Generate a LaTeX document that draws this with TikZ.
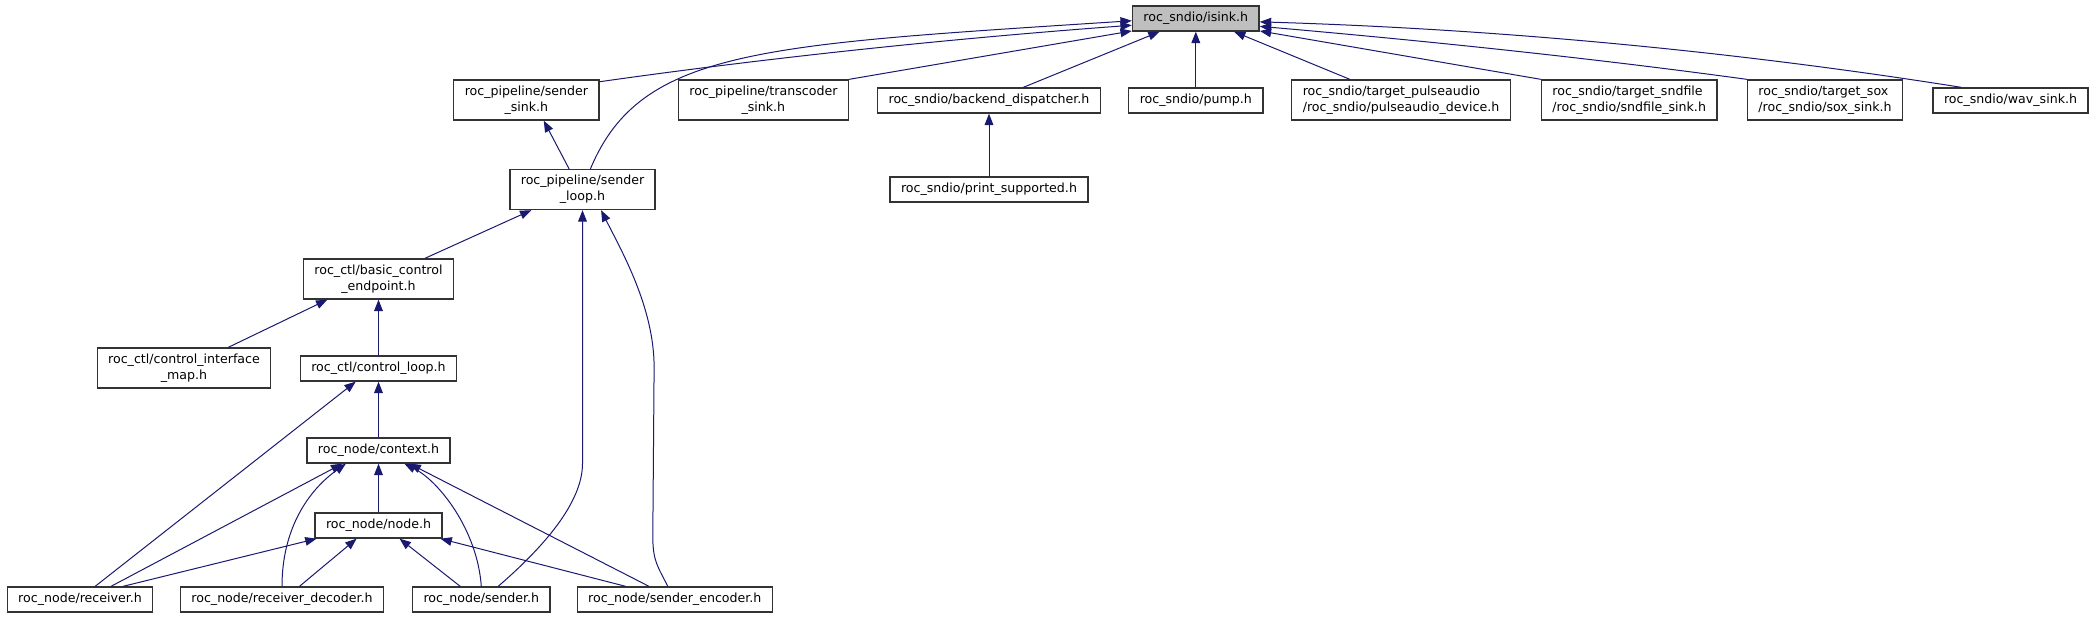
\documentclass[tikz,border=0pt]{standalone}
\usepackage{fontspec}
\setmainfont{DejaVu Sans}
\usepackage{xcolor}
\usetikzlibrary{arrows.meta, calc}

\definecolor{edgeblue}{HTML}{191970}
\definecolor{focusgray}{HTML}{BFBFBF}

\begin{document}
\begin{tikzpicture}[
    x=0.75bp, y=-0.75bp,
    file/.style={
        rectangle,
        draw=black!80,
        line width=1bp,
        fill=white,
        inner xsep=8.25bp,
        inner ysep=3bp,
        minimum height=18.75bp,
        align=center,
        font=\fontsize{9.45bp}{12bp}\selectfont
    },
    tall/.style={file, minimum height=30bp},
    focus/.style={file, fill=focusgray},
    dep/.style={-{Triangle[length=8.5bp,width=6.5bp]}, draw=edgeblue, line width=0.75bp}
]
\useasboundingbox (0,0) rectangle (2097,619);

% Top row
\node (isink) [focus] at (1195.8,18.5) {roc\_sndio/isink.h};

% Second row
\node (sendsink) [tall] at (526.4,100) {roc\_pipeline/sender\\\_sink.h};
\node (transsink) [tall] at (763.4,100) {roc\_pipeline/transcoder\\\_sink.h};
\node (backdisp) [file] at (989,100.5) {roc\_sndio/backend\_dispatcher.h};
\node (pump) [file] at (1195.8,100.5) {roc\_sndio/pump.h};
\node (pulsedev) [tall, align=left] at (1401,100)
    {roc\_sndio/target\_pulseaudio\\/roc\_sndio/pulseaudio\_device.h};
\node (sndfile) [tall, align=left] at (1629.2,100)
    {roc\_sndio/target\_sndfile\\/roc\_sndio/sndfile\_sink.h};
\node (soxsink) [tall, align=left] at (1825,100)
    {roc\_sndio/target\_sox\\/roc\_sndio/sox\_sink.h};
\node (wavsink) [file] at (2010.5,100.5) {roc\_sndio/wav\_sink.h};

% Third row
\node (sendloop) [tall] at (582.5,189.5) {roc\_pipeline/sender\\\_loop.h};
\node (printsup) [file] at (989,189.5) {roc\_sndio/print\_supported.h};

% Control part
\node (basicep) [tall] at (378.5,279) {roc\_ctl/basic\_control\\\_endpoint.h};
\node (ctlmap) [tall] at (184,368) {roc\_ctl/control\_interface\\\_map.h};
\node (ctlloop) [file] at (378.5,368.5) {roc\_ctl/control\_loop.h};

% Node part
\node (context) [file] at (378.5,450.5) {roc\_node/context.h};
\node (nodeh) [file] at (378.5,525.5) {roc\_node/node.h};
\node (receiver) [file] at (80,599.5) {roc\_node/receiver.h};
\node (recvdec) [file] at (282,599.5) {roc\_node/receiver\_decoder.h};
\node (sender) [file] at (481.3,599.5) {roc\_node/sender.h};
\node (sendenc) [file] at (674.8,599.5) {roc\_node/sender\_encoder.h};

% Edges into isink
\draw[dep] (sendsink.14) .. controls +(176,-25) and +(-176,13) .. (isink.186);
\draw[dep] (sendloop.69) .. controls +(50,-120) and +(-370,24) .. (isink.182);
\draw[dep] (transsink.north east) -- (isink.191);
\draw[dep] (backdisp.21) -- (isink.200);
\draw[dep] (pump) -- (isink);
\draw[dep] (pulsedev.158) -- (isink.341);
\draw[dep] (sndfile.north west) -- (isink.349);
\draw[dep] (soxsink.north west) .. controls +(-161,-22) and +(161,14) .. (isink.353);
\draw[dep] (wavsink.165) .. controls +(-233,-37) and +(233,7) .. (isink.357);

% Pipeline and sndio
\draw[dep] (printsup) -- (backdisp);
\draw[dep] (sendloop.123) -- (sendsink.310);
\draw[dep] (basicep.24) -- (sendloop.202);
\draw[dep] (sender.38) .. controls +(43,-37) and +(0,40) .. (sendloop.south |- context.south) -- (sendloop);
\draw[dep] (sendenc.118) .. controls +(-10,-20) and +(0,25) .. ($(sendenc.118)+(-15,-50)$)
    -- ($(sendloop.312)+(53,157)$) .. controls +(0,-60) and +(20,40) .. (sendloop.312);

% Control
\draw[dep] (ctlmap.25) -- (basicep.202);
\draw[dep] (ctlloop) -- (basicep);
\draw[dep] (receiver.41) -- (ctlloop.210);
\draw[dep] (context) -- (ctlloop);

% Context and node
\draw[dep] (receiver.23) -- (context.200);
\draw[dep] (recvdec.north) .. controls +(0,-57) and +(-38,27) .. (context.202);
\draw[dep] (nodeh) -- (context);
\draw[dep] (sender.north) .. controls +(-4,-57) and +(34,17) .. (context.333);
\draw[dep] (sendenc.153) -- (context.337);
\draw[dep] (receiver.17) -- (nodeh.192);
\draw[dep] (recvdec.37) -- (nodeh.211);
\draw[dep] (sender.148) -- (nodeh.328);
\draw[dep] (sendenc.165) -- (nodeh.348);

\end{tikzpicture}
\end{document}
